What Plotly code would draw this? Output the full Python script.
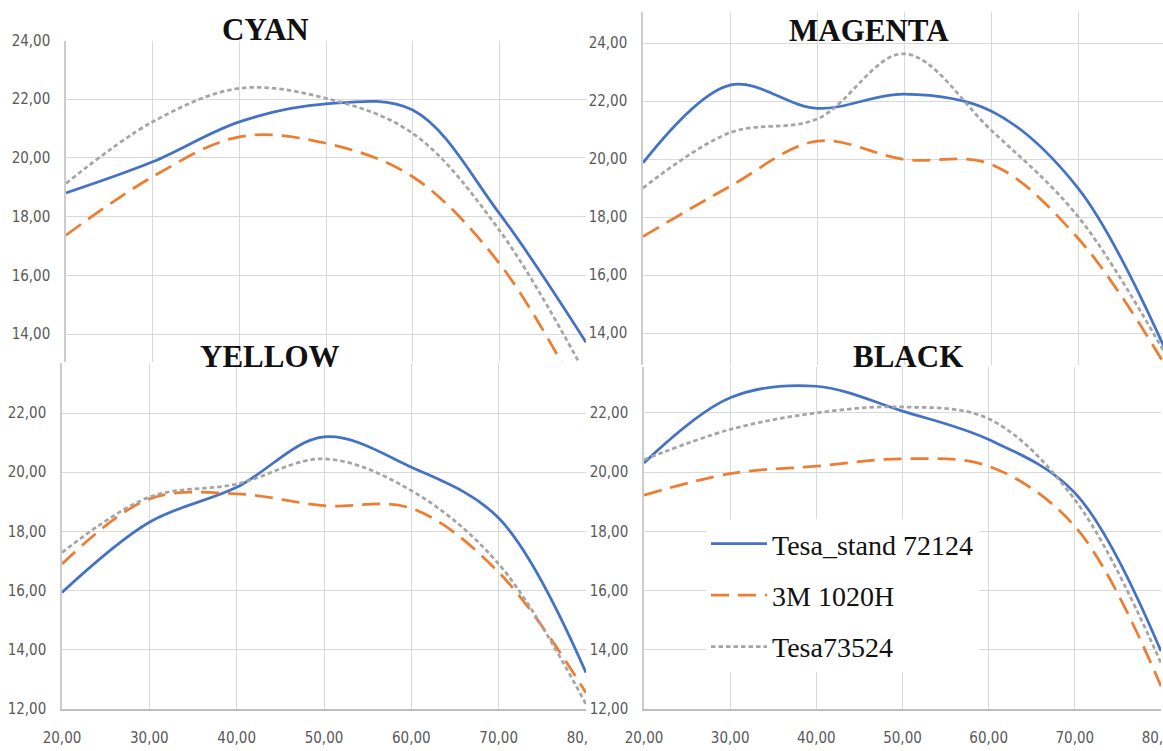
import plotly.graph_objects as go

# ---------------- data ----------------
x_vals = [20, 30, 40, 50, 60, 70, 80]
series_names = ["Tesa_stand 72124", "3M 1020H", "Tesa73524"]
panel_titles = ["CYAN", "MAGENTA", "YELLOW", "BLACK"]

cyan_tesa_stand = [18.81, 19.87, 21.23, 21.84, 21.63, 18.11, 13.72]
cyan_3m_1020h = [17.37, 19.36, 20.72, 20.50, 19.36, 16.41, 11.50]
cyan_tesa73524 = [19.13, 21.23, 22.37, 22.03, 20.84, 17.54, 12.60]

magenta_tesa_stand = [19.87, 22.55, 21.75, 22.24, 21.66, 19.00, 13.45]
magenta_3m_1020h = [17.33, 19.06, 20.62, 19.99, 19.82, 17.27, 12.90]
magenta_tesa73524 = [19.00, 20.91, 21.38, 23.63, 21.00, 18.02, 13.30]

yellow_tesa_stand = [15.94, 18.31, 19.49, 21.19, 20.17, 18.45, 13.23]
yellow_3m_1020h = [16.90, 19.10, 19.27, 18.87, 18.78, 16.62, 12.55]
yellow_tesa73524 = [17.29, 19.16, 19.60, 20.45, 19.38, 16.90, 12.16]

black_tesa_stand = [20.31, 22.51, 22.90, 22.06, 21.10, 19.30, 13.95]
black_3m_1020h = [19.22, 19.95, 20.20, 20.45, 20.20, 18.17, 12.77]
black_tesa73524 = [20.42, 21.44, 22.00, 22.20, 21.80, 19.07, 13.55]

x_ticks = [20, 30, 40, 50, 60, 70, 80]
y_ticks = [12, 14, 16, 18, 20, 22, 24]

# ---------------- layout geometry (pixels) ----------------
W, H = 1163, 751

def px_x(a, b):
    return [a / W, b / W]

def px_y(top, bottom):
    return [1 - bottom / H, 1 - top / H]

panels = [
    # (data, x-domain px, y-domain px, x range, y range, show x labels)
    ((cyan_tesa_stand, cyan_3m_1020h, cyan_tesa73524), (66, 586), (40.5, 362), [20, 80], [13.05, 24.0], False),
    ((magenta_tesa_stand, magenta_3m_1020h, magenta_tesa73524), (643, 1163), (12, 365), [20, 79.77], [12.90, 25.07], False),
    ((yellow_tesa_stand, yellow_3m_1020h, yellow_tesa73524), (62, 586), (363, 709), [20, 80], [12.0, 23.69], True),
    ((black_tesa_stand, black_3m_1020h, black_tesa73524), (644, 1161), (367, 709), [20, 80], [12.0, 23.55], True),
]

colors = ["#4472C4", "#ED7D31", "#A5A5A5"]
dashes = ["solid", "18px,9px", "4.5px,3px"]
title_pos = [(265, 30), (869, 31), (270, 356), (908, 356)]

fig = go.Figure()
tick_font = dict(family="Liberation Sans Narrow, DejaVu Sans Condensed, Arial Narrow, sans-serif",
                 size=15, color="#595959")

for i, (data, xd, yd, xr, yr, showx) in enumerate(panels):
    n = i + 1
    xa = "x" if n == 1 else f"x{n}"
    ya = "y" if n == 1 else f"y{n}"
    for j, ys in enumerate(data):
        fig.add_trace(go.Scatter(
            x=x_vals, y=ys, mode="lines", name=series_names[j],
            line=dict(color=colors[j], width=2.75, dash=dashes[j], shape="spline", smoothing=1.0),
            xaxis=xa, yaxis=ya, showlegend=(n == 4), legendgroup=f"g{j}",
            hoverinfo="skip"))
    xkey = "xaxis" if n == 1 else f"xaxis{n}"
    ykey = "yaxis" if n == 1 else f"yaxis{n}"
    fig.update_layout({
        xkey: dict(domain=px_x(*xd), range=xr, anchor=ya, tickvals=x_ticks,
                   tickformat=".2f", showticklabels=showx, showgrid=True,
                   gridcolor="#D9D9D9", gridwidth=1.3, zeroline=False,
                   showline=showx, linecolor="#BFBFBF", linewidth=2,
                   ticks="", tickfont=tick_font, ticklabelstandoff=14,
                   ticklabeloverflow="allow", automargin=False),
        ykey: dict(domain=px_y(*yd), range=yr, anchor=xa, tickvals=y_ticks,
                   tickformat=".2f", showgrid=True, gridcolor="#D9D9D9",
                   gridwidth=1.3, zeroline=False, showline=True,
                   linecolor="#CCCCCC", linewidth=1.5, ticks="",
                   tickfont=tick_font, ticklabelstandoff=11,
                   automargin=False),
    })
    tx, ty = title_pos[i]
    fig.add_annotation(x=tx / W, y=1 - ty / H, xref="paper", yref="paper",
                       text=f"<b>{panel_titles[i]}</b>", showarrow=False,
                       xanchor="center", yanchor="middle",
                       font=dict(family="Liberation Serif, Times New Roman, serif",
                                 size=31, color="#111111"))

# white patch where the right-hand chart overlaps the left chart's last label
fig.add_shape(type="rect", xref="paper", yref="paper",
              x0=589 / W, x1=606 / W, y0=0, y1=1 - 722 / H,
              fillcolor="white", line=dict(width=0), layer="above")

fig.update_layout(
    width=W, height=H,
    autosize=False,
    margin=dict(l=0, r=0, t=0, b=0, pad=0, autoexpand=False),
    paper_bgcolor="white", plot_bgcolor="white",
    separators=", ",
    showlegend=True,
    legend=dict(x=706 / W, y=1 - 519 / H, xanchor="left", yanchor="top",
                bgcolor="white", borderwidth=0, itemwidth=56,
                tracegroupgap=12,
                font=dict(family="Liberation Serif, Times New Roman, serif",
                          size=28, color="#111111")),
)

page_fix = ("document.body.style.margin='0';"
            "document.body.style.overflow='hidden';"
            "document.documentElement.style.overflow='hidden';")
fig.write_html("out.html", post_script=page_fix, config={"displayModeBar": False})
